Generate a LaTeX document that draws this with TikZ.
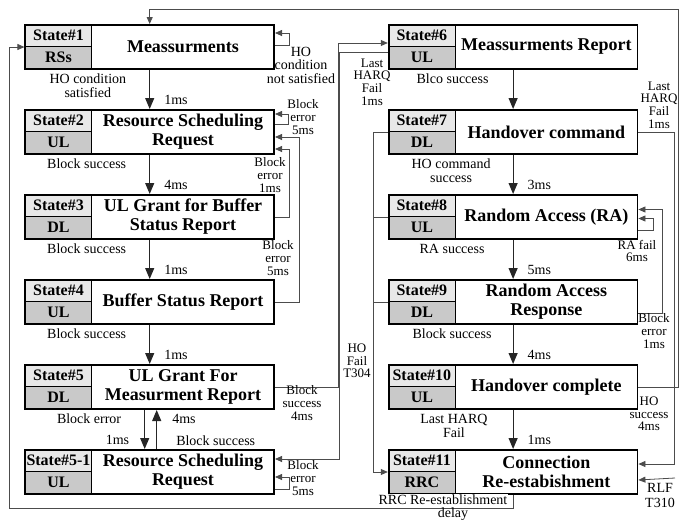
\documentclass[tikz,border=0pt]{standalone}
\usepackage{fontspec}
\setmainfont{Liberation Serif}
\usetikzlibrary{arrows.meta,positioning,fit}

\begin{document}
\begin{tikzpicture}[
  x=1pt, y=-1pt,
  ttl/.style={
    minimum width=182pt, minimum height=44pt, inner sep=0pt,
    align=center, font=\fontsize{18}{19}\selectfont\bfseries
  },
  tagup/.style={
    draw, line width=0.6pt, fill=gray!18, minimum width=66pt,
    minimum height=21pt, inner sep=0pt,
    font=\fontsize{16}{16}\selectfont\bfseries
  },
  tagdn/.style={tagup, fill=gray!42, minimum height=23pt},
  frm/.style={draw, line width=1.6pt, inner sep=0pt},
  flow/.style={-{Triangle[length=11pt,width=9pt]}, line width=1.1pt, draw=black!85},
  lnk/.style={-{Triangle[length=7pt,width=6pt]}, line width=0.8pt, draw=black!70},
  lbl/.style={font=\fontsize{14}{14}\selectfont, inner sep=0pt, align=center},
  sml/.style={font=\fontsize{13}{12.6}\selectfont, inner sep=0pt, align=center},
]
\useasboundingbox (0,0) rectangle (681,520);

%% left column
\node[ttl] (t1) at (183,47) {Meassurments};
\node[tagup, anchor=north east] (s1u) at (t1.north west) {State\#1};
\node[tagdn, anchor=south east] (s1d) at (t1.south west) {RSs};
\node[frm, fit=(s1u)(t1)] (s1) {};

\node[ttl, below=40.6pt of t1] (t2) {Resource Scheduling\\Request};
\node[tagup, anchor=north east] (s2u) at (t2.north west) {State\#2};
\node[tagdn, anchor=south east] (s2d) at (t2.south west) {UL};
\node[frm, fit=(s2u)(t2)] (s2) {};

\node[ttl, below=40.6pt of t2] (t3) {UL Grant for Buffer\\Status Report};
\node[tagup, anchor=north east] (s3u) at (t3.north west) {State\#3};
\node[tagdn, anchor=south east] (s3d) at (t3.south west) {DL};
\node[frm, fit=(s3u)(t3)] (s3) {};

\node[ttl, below=40.6pt of t3] (t4) {Buffer Status Report};
\node[tagup, anchor=north east] (s4u) at (t4.north west) {State\#4};
\node[tagdn, anchor=south east] (s4d) at (t4.south west) {UL};
\node[frm, fit=(s4u)(t4)] (s4) {};

\node[ttl, below=40.6pt of t4] (t5) {UL Grant For\\Measurment Report};
\node[tagup, anchor=north east] (s5u) at (t5.north west) {State\#5};
\node[tagdn, anchor=south east] (s5d) at (t5.south west) {DL};
\node[frm, fit=(s5u)(t5)] (s5) {};

\node[ttl, below=40.6pt of t5] (t51) {Resource Scheduling\\Request};
\node[tagup, anchor=north east] (s51u) at (t51.north west) {State\#5-1};
\node[tagdn, anchor=south east] (s51d) at (t51.south west) {UL};
\node[frm, fit=(s51u)(t51)] (s51) {};

%% right column
\node[ttl, right=181pt of t1] (t6) {Meassurments Report};
\node[tagup, anchor=north east] (s6u) at (t6.north west) {State\#6};
\node[tagdn, anchor=south east] (s6d) at (t6.south west) {UL};
\node[frm, fit=(s6u)(t6)] (s6) {};

\node[ttl, below=40.6pt of t6] (t7) {Handover command};
\node[tagup, anchor=north east] (s7u) at (t7.north west) {State\#7};
\node[tagdn, anchor=south east] (s7d) at (t7.south west) {DL};
\node[frm, fit=(s7u)(t7)] (s7) {};

\node[ttl, below=40.6pt of t7] (t8) {Random Access (RA)};
\node[tagup, anchor=north east] (s8u) at (t8.north west) {State\#8};
\node[tagdn, anchor=south east] (s8d) at (t8.south west) {UL};
\node[frm, fit=(s8u)(t8)] (s8) {};

\node[ttl, below=40.6pt of t8] (t9) {Random Access\\Response};
\node[tagup, anchor=north east] (s9u) at (t9.north west) {State\#9};
\node[tagdn, anchor=south east] (s9d) at (t9.south west) {DL};
\node[frm, fit=(s9u)(t9)] (s9) {};

\node[ttl, below=40.6pt of t9] (t10) {Handover complete};
\node[tagup, anchor=north east] (s10u) at (t10.north west) {State\#10};
\node[tagdn, anchor=south east] (s10d) at (t10.south west) {UL};
\node[frm, fit=(s10u)(t10)] (s10) {};

\node[ttl, below=40.6pt of t10] (t11) {Connection\\Re-estabishment};
\node[tagup, anchor=north east] (s11u) at (t11.north west) {State\#11};
\node[tagdn, anchor=south east] (s11d) at (t11.south west) {RRC};
\node[frm, fit=(s11u)(t11)] (s11) {};

%% main flow, left
\draw[flow] (s1) -- (s2)
  node[lbl, pos=0, anchor=north east, xshift=-23pt, yshift=-3.5pt] {HO condition\\satisfied}
  node[lbl, pos=1, anchor=west, xshift=14pt, yshift=9pt] {1ms};
\draw[flow] (s2) -- (s3)
  node[lbl, pos=0, anchor=north east, xshift=-23pt, yshift=-3.5pt] {Block success}
  node[lbl, pos=1, anchor=west, xshift=14pt, yshift=9pt] {4ms};
\draw[flow] (s3) -- (s4)
  node[lbl, pos=0, anchor=north east, xshift=-23pt, yshift=-3.5pt] {Block success}
  node[lbl, pos=1, anchor=west, xshift=14pt, yshift=9pt] {1ms};
\draw[flow] (s4) -- (s5)
  node[lbl, pos=0, anchor=north east, xshift=-23pt, yshift=-3.5pt] {Block success}
  node[lbl, pos=1, anchor=west, xshift=14pt, yshift=9pt] {1ms};

%% State#5 <-> State#5-1
\draw[flow] ([xshift=-5pt]s5.south) -- ([xshift=-5pt]s51.north)
  node[lbl, pos=0, anchor=east, xshift=-23pt, yshift=-9pt] {Block error}
  node[lbl, pos=1, anchor=east, xshift=-15pt, yshift=9pt] {1ms};
\draw[flow] ([xshift=7pt]s51.north) -- ([xshift=7pt]s5.south)
  node[lbl, pos=0, anchor=west, xshift=19pt, yshift=8pt] {Block success}
  node[lbl, pos=1, anchor=west, xshift=15pt, yshift=-9pt] {4ms};

%% main flow, right
\draw[flow] (s6) -- (s7)
  node[lbl, pos=0, anchor=north east, xshift=-24pt, yshift=-3.5pt] {Blco success};
\draw[flow] (s7) -- (s8)
  node[lbl, pos=0, anchor=north east, xshift=-22pt, yshift=-3.5pt] {HO command\\success}
  node[lbl, pos=1, anchor=west, xshift=14pt, yshift=9pt] {3ms};
\draw[flow] (s8) -- (s9)
  node[lbl, pos=0, anchor=north east, xshift=-28pt, yshift=-3.5pt] {RA success}
  node[lbl, pos=1, anchor=west, xshift=14pt, yshift=9pt] {5ms};
\draw[flow] (s9) -- (s10)
  node[lbl, pos=0, anchor=north east, xshift=-21pt, yshift=-3.5pt] {Block success}
  node[lbl, pos=1, anchor=west, xshift=14pt, yshift=9pt] {4ms};
\draw[flow] (s10) -- (s11)
  node[lbl, pos=0, anchor=north east, xshift=-25pt, yshift=-3.5pt] {Last HARQ\\Fail}
  node[lbl, pos=1, anchor=west, xshift=14pt, yshift=9pt] {1ms};

%% retries, left
\draw[lnk] ([yshift=2pt]s1.east) -- ++(14,0) |- ([yshift=14pt]s1.east);
\node[sml, font=\fontsize{14}{13.5}\selectfont] at (301,65) {HO\\condition\\not satisfied};
\draw[lnk] ([yshift=8pt]s2.east) -- ++(13,0) |- ([yshift=18pt]s2.east);
\node[sml] at (303,117) {Block\\error\\5ms};
\draw[lnk] (s3.east) -- ++(14,0) |- ([yshift=-17pt]s2.east);
\node[sml] at (270,175) {Block\\error\\1ms};
\draw[lnk] (s4.east) -- ++(24,0) |- ([yshift=-5pt]s2.east);
\node[sml] at (278,258) {Block\\error\\5ms};
\draw[lnk] ([yshift=-17pt]s51.east) -- ++(14,0) |- ([yshift=-5pt]s51.east);
\node[sml] at (303,478) {Block\\error\\5ms};

%% between the columns
\draw[lnk] (s5.east) -- ++(63,0) |- ([yshift=4pt]s6.west);
\node[sml] at (302,403) {Block\\success\\4ms};
\draw[lnk] ([yshift=-5pt]s6.west) -- ++(-48,0) |- ([yshift=13pt]s51.east);
\node[sml] at (372,82) {Last\\HARQ\\Fail\\1ms};
\draw[lnk] (s7.west) -- ++(-14,0) |- (s11.west);
\draw[lnk, -] (s8.west) -- ++(-14,0);
\draw[lnk, -] (s9.west) -- ++(-14,0);
\node[sml] at (357,361) {HO\\Fail\\T304};

%% retries, right
\draw[lnk] ([yshift=-13.5pt]s8.east) -- ++(15,0) |- ([yshift=-1.5pt]s8.east);
\node[sml] at (637,251) {RA fail\\6ms};
\draw[lnk] ([yshift=-11.5pt]s9.east) -- ++(24,0) |- ([yshift=7.5pt]s8.east);
\node[sml] at (654,331) {Block\\error\\1ms};
\draw[lnk] (s7.east) -- ++(36,0) |- ([yshift=8pt]s11.east);
\node[sml] at (659,105) {Last\\HARQ\\Fail\\1ms};
\coordinate (rlf) at (675,478);
\draw[lnk] (rlf) -- ([yshift=-8pt]s11.east);
\node[lbl, font=\fontsize{14}{15}\selectfont] at (660,495) {RLF\\T310};

%% back to State#1
\draw[lnk] (s10.east) -- ++(40,0) -- ++(0,-378) -| (s1.north);
\node[sml] at (649,414) {HO\\success\\4ms};
\draw[lnk] (s11.south) -- ++(0,13) -- ++(-504,0) |- (s1.west);
\node[lbl, fill=white, inner sep=1pt] at (443,500) {RRC Re-establishment};
\node[lbl] at (453,514) {delay};
\end{tikzpicture}
\end{document}
